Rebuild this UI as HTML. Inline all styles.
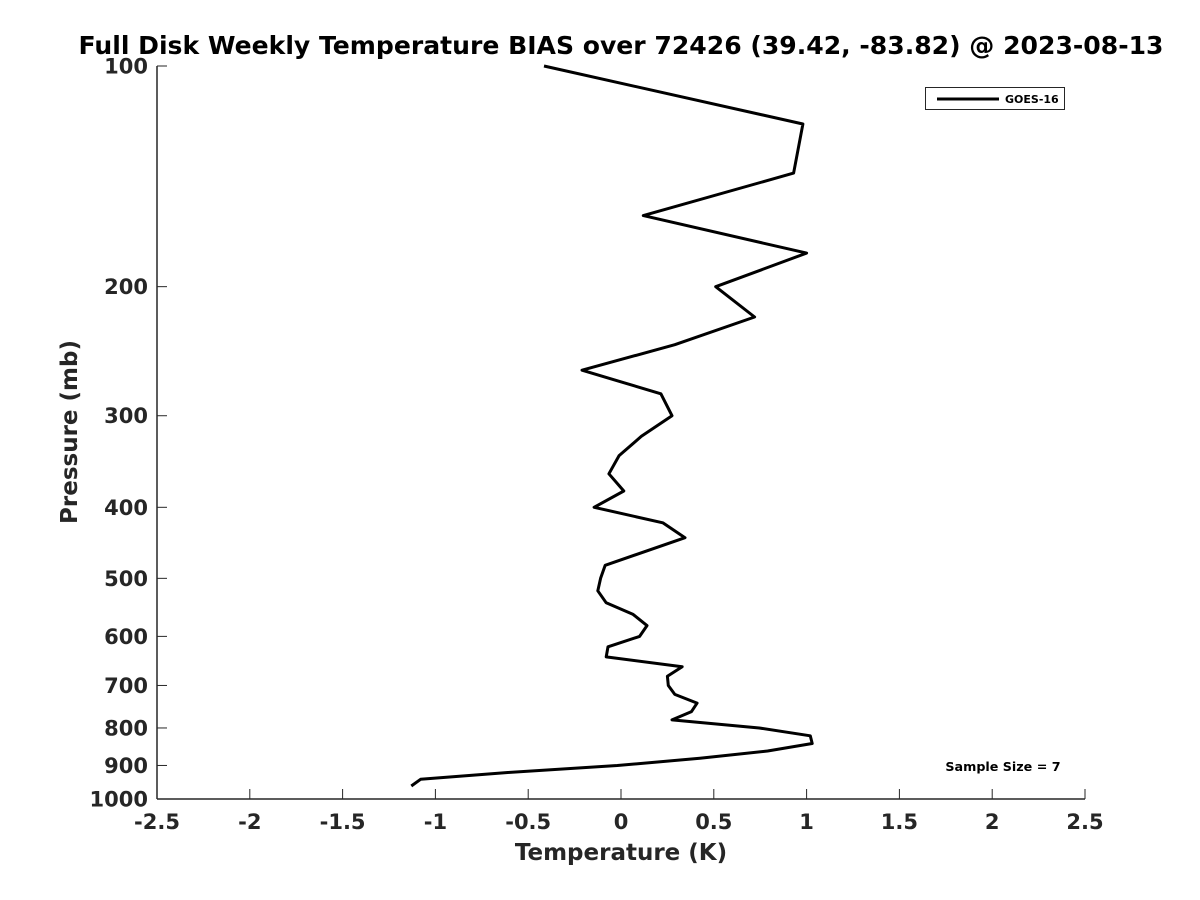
<!DOCTYPE html>
<html><head><meta charset="utf-8"><style>
html,body{margin:0;padding:0;background:#fff;}
svg{display:block;font-family:"DejaVu Sans","Liberation Sans",sans-serif;font-weight:bold;}
</style></head><body>
<svg id="chart" width="1200" height="900" viewBox="0 0 1200 900">
<text x="621" y="54" text-anchor="middle" font-size="25" textLength="1085" lengthAdjust="spacingAndGlyphs" fill="#000">Full Disk Weekly Temperature BIAS over 72426 (39.42, -83.82) @ 2023-08-13</text>
<g id="axes"></g>
<g id="series"></g>
<text x="621" y="860" text-anchor="middle" font-size="23" fill="#262626">Temperature (K)</text>
<text transform="translate(77,432) rotate(-90)" text-anchor="middle" font-size="23" fill="#262626">Pressure (mb)</text>
<g>
<rect x="925.5" y="87.5" width="139" height="22" fill="#fff" stroke="#262626" stroke-width="1"/>
<line x1="937" y1="99" x2="999" y2="99" stroke="#000" stroke-width="3"/>
<text x="1005" y="103" font-size="11" fill="#000">GOES-16</text>
</g>
<text x="1003" y="771" text-anchor="middle" font-size="12.7" fill="#000">Sample Size = 7</text>
</svg>
<script>
const xTicks=[-2.5,-2,-1.5,-1,-0.5,0,0.5,1,1.5,2,2.5];
const yTicks=[100,200,300,400,500,600,700,800,900,1000];
const pressures=[100,120,140,160,180,200,220,240,260,280,300,320,340,360,380,400,420,440,480,500,520,540,560,580,600,620,640,660,680,700,720,740,760,780,800,820,840,860,880,900,920,940,960];
const bias=[-0.415,0.98,0.93,0.12,1.0,0.51,0.72,0.29,-0.21,0.215,0.275,0.11,-0.01,-0.065,0.015,-0.145,0.225,0.345,-0.085,-0.11,-0.125,-0.08,0.065,0.14,0.1,-0.07,-0.08,0.33,0.25,0.255,0.29,0.41,0.38,0.275,0.745,1.02,1.03,0.79,0.425,-0.02,-0.61,-1.08,-1.13];
const L=157,R=1085,T=66,B=799;
const xs=v=>L+(v+2.5)/5*(R-L);
const ys=p=>T+Math.log10(p/100)*(B-T);
const NS="http://www.w3.org/2000/svg";
const ax=document.getElementById('axes'),se=document.getElementById('series');
function mk(tag,attrs,parent){const e=document.createElementNS(NS,tag);for(const k in attrs)e.setAttribute(k,attrs[k]);parent.appendChild(e);return e;}
let e=mk('line',{x1:L,y1:T,x2:L,y2:B,stroke:'#262626','stroke-width':1.5},ax);


e=mk('line',{x1:L,y1:B,x2:R,y2:B,stroke:'#262626','stroke-width':1.5},ax);


xTicks.forEach(v=>{
 const x=xs(v);
 let t=mk('line',{x1:x,y1:B,x2:x,y2:B-10,stroke:'#262626','stroke-width':1},ax);
 
 
 let l=mk('text',{x:x,y:B+30,'text-anchor':'middle','font-size':21,fill:'#262626'},ax);
 l.textContent=String(v);
 
 
});
yTicks.forEach(p=>{
 const y=ys(p);
 let t=mk('line',{x1:L,y1:y,x2:L+10,y2:y,stroke:'#262626','stroke-width':1},ax);
 
 
 let l=mk('text',{x:L-9,y:y+7.5,'text-anchor':'end','font-size':21,fill:'#262626'},ax);
 l.textContent=String(p);
 
 
});
const pts=pressures.map((p,i)=>xs(bias[i]).toFixed(1)+','+ys(p).toFixed(1)).join(' ');
const pl=mk('polyline',{points:pts,fill:'none',stroke:'#000','stroke-width':3,'stroke-linejoin':'round'},se);


</script>
</body></html>
